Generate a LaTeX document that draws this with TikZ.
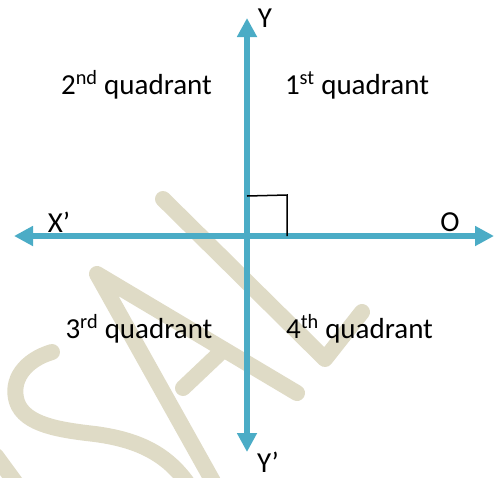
\documentclass[tikz,border=0pt]{standalone}
\usepackage{fontspec}
\setmainfont{Carlito}
\usetikzlibrary{arrows.meta}
\definecolor{axisblue}{HTML}{4BACC6}
\definecolor{wmbeige}{HTML}{DFDBC6}

\begin{document}
\begin{tikzpicture}
[
	axis/.style={draw=axisblue,line width=6pt,{Triangle[length=19pt,width=19pt]}-{Triangle[length=19pt,width=19pt]}},
	rightang/.style={draw=black,line width=1.5pt},
	wmark/.style={draw=wmbeige,line width=16pt,line cap=round,line join=round},
	lbl/.style={font=\fontsize{29}{34}\selectfont,inner sep=0pt},
	x=1pt,
	y=-1pt
]

	\useasboundingbox (0,0) rectangle (494,477);

	% watermark
	\begin{scope}
		\clip (0,0) rectangle (494,477);
		\draw[wmark] (163,199) -- (325,359) -- (362,312);
		\draw[wmark] (215,485) -- (97,274) -- (297,393);
		\draw[wmark] (183,388) -- (221,352);
		\draw[wmark] (52,352) .. controls (25,360) and (10,380) .. (17,402)
			.. controls (25,425) and (60,430) .. (95,434)
			.. controls (140,440) and (170,455) .. (192,490);
		\draw[wmark] (-4,456) -- (18,486);
	\end{scope}

	% axes
	\coordinate (o) at (247,236);
	\coordinate (xl) at (14,236);
	\coordinate (xr) at (494,236);
	\coordinate (yt) at (247,18);
	\coordinate (yb) at (247,452);
	\draw[axis] (xl) -- (xr);
	\draw[axis] (yb) -- (yt);

	% right angle
	\coordinate (ra1) at (247,196);
	\coordinate (ra2) at (287,195);
	\coordinate (ra3) at (287,236);
	\draw[rightang] (ra1) -- (ra2) -- (ra3);

	% axis labels
	\node[lbl] (ylab) at (265,18) {Y};
	\node[lbl] (yplab) at (268,462) {Y’};
	\node[lbl] (xplab) at (59,222) {X’};
	\node[lbl] (olab) at (450,222) {O};

	% quadrants
	\node[lbl,anchor=base] (q2) at (136.5,94) {2\textsuperscript{nd} quadrant};
	\node[lbl,anchor=base] (q1) at (357,94) {1\textsuperscript{st} quadrant};
	\node[lbl,anchor=base] (q3) at (139,338) {3\textsuperscript{rd} quadrant};
	\node[lbl,anchor=base] (q4) at (359.5,338) {4\textsuperscript{th} quadrant};

\end{tikzpicture}
\end{document}
